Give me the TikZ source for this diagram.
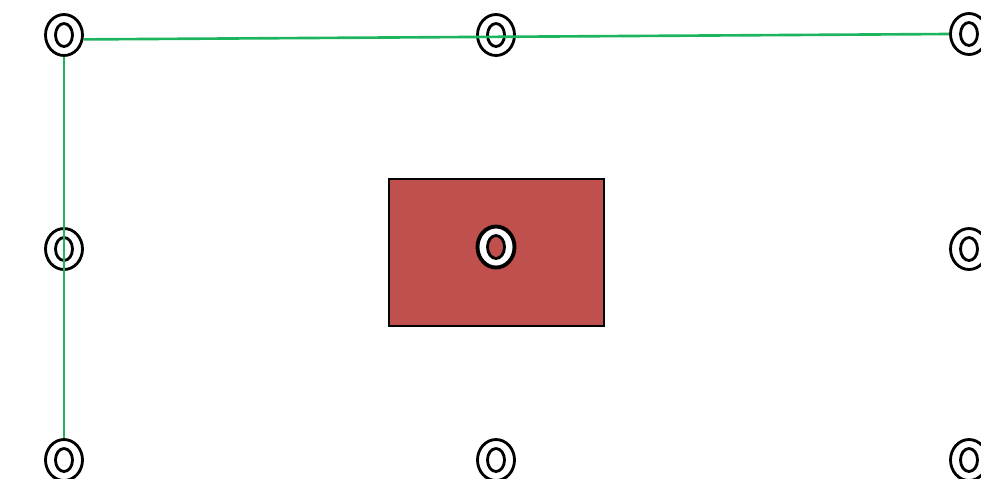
\documentclass[tikz,border=0pt]{standalone}
\usepackage{xcolor}
\usepackage{tikz}
\usetikzlibrary{shapes.geometric}
\definecolor{brick}{HTML}{C0504D}
\definecolor{wire}{HTML}{1DB45E}
\tikzset{ring/.style={ellipse,draw=black,line width=1.6pt,fill=white,inner sep=0pt,
    minimum width=0.74cm,minimum height=0.82cm,
    path picture={\draw[line width=1.6pt,fill=#1] (path picture bounding box.center) ellipse (0.17cm and 0.23cm);}},
  ring/.default=white,
  slab/.style={rectangle,draw=black,line width=1.4pt,fill=brick,minimum width=4.3cm,minimum height=2.94cm,inner sep=0pt},
  link/.style={wire,line width=1.5pt}}

\begin{document}
\begin{tikzpicture}[x=0.02cm,y=-0.02cm]
\useasboundingbox (0,0) rectangle (981,478);
\node[slab] (box) at (496.5,252.5) {};
\node[ring] (tl) at (64,35) {}; \node[ring] (tm) at (496,35) {}; \node[ring] (tr) at (969,34) {};
\node[ring] (ml) at (64,249) {}; \node[ring=brick,line width=2.2pt] (mm) at (496,247) {}; \node[ring] (mr) at (969,249) {};
\node[ring] (bl) at (64,460) {}; \node[ring] (bm) at (496,460) {}; \node[ring] (br) at (969,460) {};
\draw[link] ([yshift=-2.5]tl.east) -- (tr.west);
\draw[link] (tl.south) -- (bl.north);
\end{tikzpicture}
\end{document}
